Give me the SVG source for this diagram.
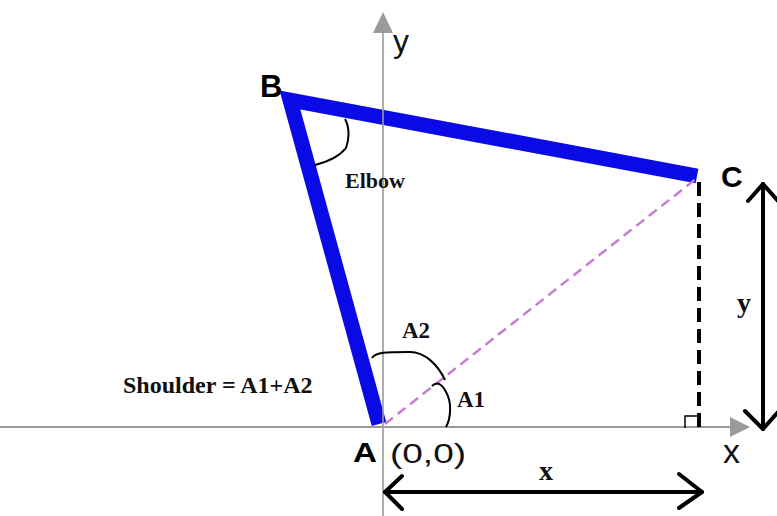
<svg xmlns="http://www.w3.org/2000/svg" width="777" height="516" viewBox="0 0 777 516">
<style>
.axis{stroke:#9a9a9a;stroke-width:2;fill:none}
.axhead{fill:#9a9a9a}
.arm{stroke:#0a0ae6;stroke-width:15;fill:none;stroke-linejoin:miter}
.ser{font-family:"Liberation Serif","Times New Roman",serif;font-weight:bold;fill:#111}
.sans{font-family:"Liberation Sans",Arial,sans-serif;fill:#111}
.bsans{font-family:"Liberation Sans",Arial,sans-serif;font-weight:bold;fill:#000}
.dim{stroke:#000;stroke-width:4;fill:none;stroke-linecap:round;stroke-linejoin:round}
.arc{stroke:#000;stroke-width:2;fill:none}
</style>
<rect width="777" height="516" fill="#fff"/>
<g id="x-axis">
<line class="axis" x1="0" y1="427" x2="733" y2="427"/>
<polygon class="axhead" points="750,427 730,417 730,437"/>
</g>
<g id="arm">
<polyline class="arm" points="379,424 290,100 697,176"/>
</g>
<g id="y-axis">
<line class="axis" x1="383" y1="32" x2="383" y2="516" stroke-opacity="0.8"/>
<polygon class="axhead" points="383,12 373,33 393,33"/>
</g>
<g id="connectors">
<line x1="385" y1="424" x2="697" y2="178" stroke="#c77dd6" stroke-width="2.5" stroke-dasharray="10 6"/>
<line x1="699" y1="182" x2="699" y2="431" stroke="#000" stroke-width="4" stroke-dasharray="14 7"/>
<polyline points="685,428 685,416 697,416" stroke="#000" stroke-width="1.5" fill="none"/>
<g id="dim-y">
<line class="dim" x1="763" y1="184" x2="763" y2="429"/>
<polyline class="dim" points="748,201 763,184 778,201"/>
<polyline class="dim" points="745,411 763,429 779,411"/>
</g>
<g id="dim-x">
<line class="dim" x1="385" y1="492" x2="702" y2="492"/>
<polyline class="dim" points="402,476 385,492 402,509"/>
<polyline class="dim" points="679,474 702,492 679,508"/>
</g>
</g>
<g id="angles">
<path class="arc" d="M345,119 C350,128 349,140 346,148 C338,158 326,162 315,165"/>
<path class="arc" d="M372,358 C376,352 385,352 410,352 C425,352 438,365 445,380"/>
<path class="arc" d="M432,386 C437,381 442,384 446,392 C452,402 451,418 446,427"/>
</g>
<g id="node-A">
<text class="bsans" x="353" y="462" font-size="28" textLength="24" lengthAdjust="spacingAndGlyphs">A</text>
<text class="sans" x="390" y="463" font-size="28" textLength="76" lengthAdjust="spacingAndGlyphs">(0,0)</text>
</g>
<g id="node-B">
<text class="bsans" x="260" y="97" font-size="31">B</text>
</g>
<g id="node-C">
<text class="bsans" x="721" y="187" font-size="30">C</text>
</g>
<g id="labels">
<text class="sans" x="393" y="52" font-size="32" fill="#222">y</text>
<text class="sans" x="723" y="463" font-size="34" fill="#222">x</text>
<text class="ser" x="345" y="188" font-size="22">Elbow</text>
<text class="ser" x="123" y="393" font-size="24">Shoulder = A1+A2</text>
<text class="ser" x="402" y="338" font-size="23">A2</text>
<text class="ser" x="457" y="407" font-size="23">A1</text>
<text class="ser" x="539" y="480" font-size="28">x</text>
<text class="ser" x="737" y="312" font-size="28">y</text>
</g>
</svg>
